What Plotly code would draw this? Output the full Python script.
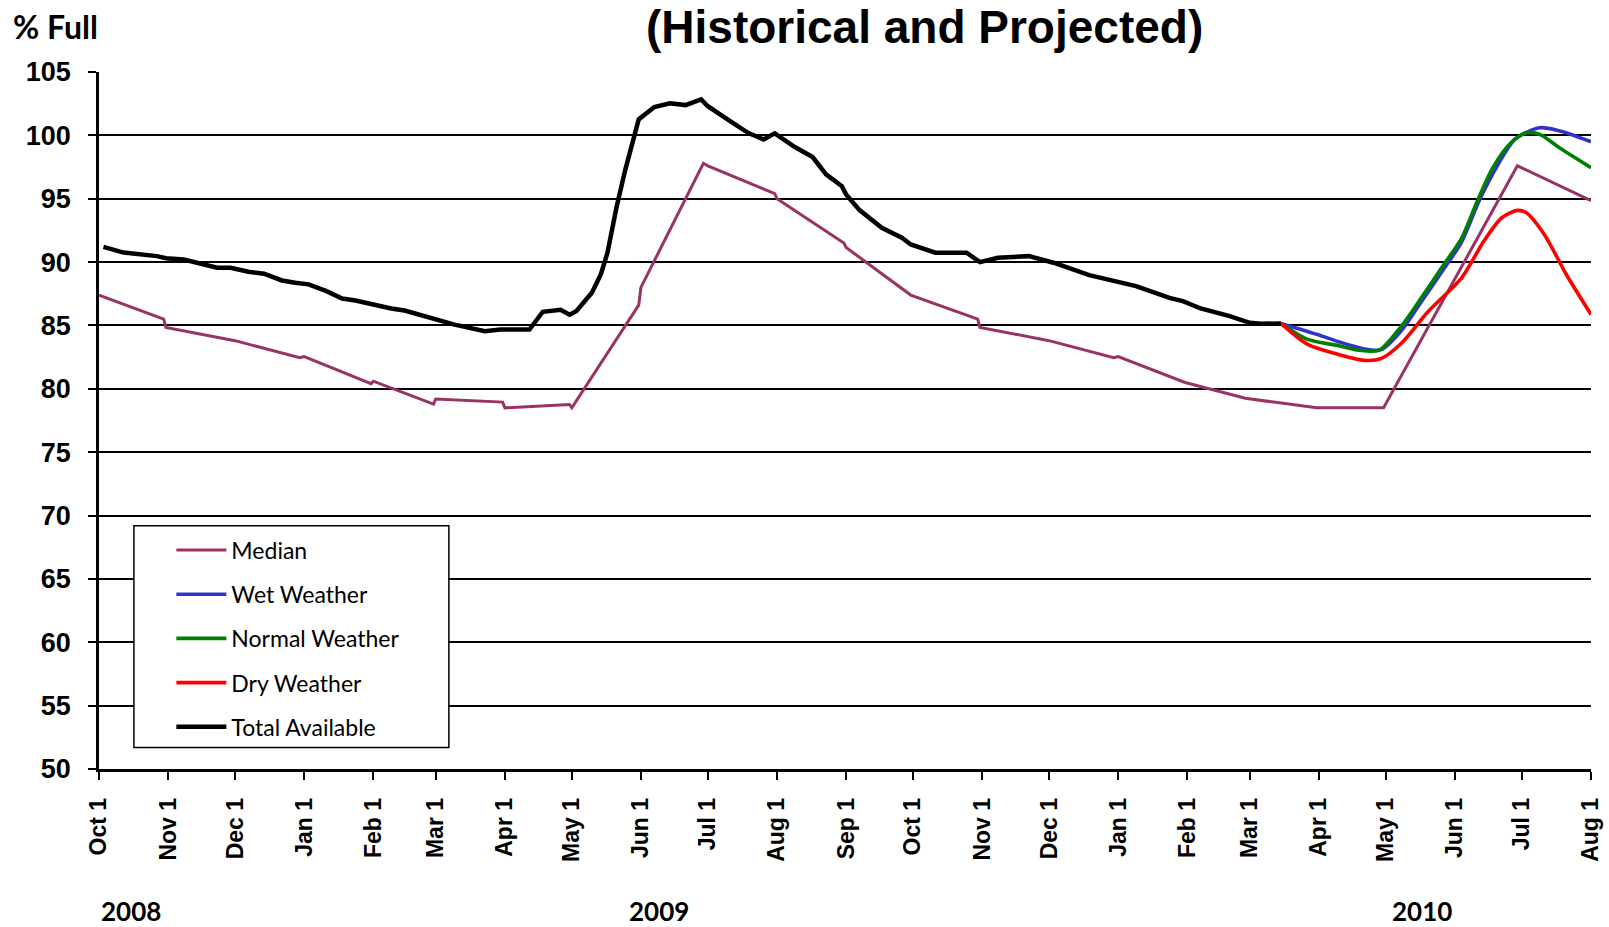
import plotly.graph_objects as go

# ---------------- data ----------------
median_dates = ["2008-10-01", "2008-10-30", "2008-10-31", "2008-12-01", "2008-12-30", "2009-01-01",
                "2009-01-31", "2009-02-01", "2009-02-28", "2009-03-01", "2009-03-31", "2009-04-01",
                "2009-04-30", "2009-05-01", "2009-05-31", "2009-06-01", "2009-06-29", "2009-07-01",
                "2009-07-31", "2009-08-01", "2009-08-31", "2009-09-01", "2009-09-30", "2009-10-30",
                "2009-10-31", "2009-12-01", "2009-12-30", "2010-01-01", "2010-01-31", "2010-02-27",
                "2010-03-31", "2010-04-30", "2010-06-29", "2010-08-01"]
median_vals = [87.4, 85.5, 84.85, 83.8, 82.45, 82.55,
               80.4, 80.6, 78.8, 79.2, 78.95, 78.5,
               78.76, 78.5, 86.6, 88.0, 97.8, 97.6,
               95.4, 95.0, 91.5, 91.15, 87.4, 85.5,
               84.85, 83.8, 82.45, 82.55, 80.5, 79.25,
               78.5, 78.5, 97.6, 94.85]

total_dates = ["2008-10-03", "2008-10-12", "2008-10-27", "2008-10-31", "2008-11-08", "2008-11-15",
               "2008-11-23", "2008-11-29", "2008-12-07", "2008-12-14", "2008-12-22", "2008-12-28",
               "2009-01-03", "2009-01-11", "2009-01-18", "2009-01-24", "2009-01-31", "2009-02-09",
               "2009-02-15", "2009-03-02", "2009-03-09", "2009-03-23", "2009-03-30", "2009-04-12",
               "2009-04-18", "2009-04-26", "2009-04-30", "2009-05-03", "2009-05-10", "2009-05-14",
               "2009-05-17", "2009-05-21", "2009-05-25", "2009-05-31", "2009-06-07", "2009-06-14",
               "2009-06-21", "2009-06-28", "2009-07-01", "2009-07-11", "2009-07-19", "2009-07-26",
               "2009-07-31", "2009-08-09", "2009-08-17", "2009-08-23", "2009-08-30", "2009-09-01",
               "2009-09-07", "2009-09-17", "2009-09-26", "2009-09-30", "2009-10-11", "2009-10-25",
               "2009-10-31", "2009-11-08", "2009-11-22", "2009-12-03", "2009-12-19", "2010-01-09",
               "2010-01-24", "2010-01-30", "2010-02-07", "2010-02-20", "2010-03-01", "2010-03-06",
               "2010-03-15"]
total_vals = [91.2, 90.75, 90.47, 90.3, 90.2, 89.87,
              89.55, 89.55, 89.24, 89.08, 88.55, 88.37,
              88.24, 87.71, 87.13, 86.97, 86.66, 86.34,
              86.18, 85.47, 85.08, 84.55, 84.68, 84.68,
              86.08, 86.24, 85.85, 86.13, 87.58, 89.03,
              90.74, 94.29, 97.3, 101.26, 102.24, 102.53,
              102.39, 102.84, 102.3, 101.13, 100.2, 99.68,
              100.16, 99.08, 98.29, 96.92, 96.0, 95.34,
              94.1, 92.7, 91.92, 91.39, 90.74, 90.74,
              90.0, 90.34, 90.47, 89.95, 88.97, 88.1,
              87.18, 86.92, 86.34, 85.74, 85.21, 85.13,
              85.16]

wet_dates = ["2010-03-15", "2010-03-31", "2010-04-11", "2010-04-23", "2010-04-29", "2010-05-08",
             "2010-05-17", "2010-05-26", "2010-06-04", "2010-06-12", "2010-06-20", "2010-06-28",
             "2010-07-09", "2010-07-18", "2010-08-01"]
wet_vals = [85.16, 84.3, 83.65, 83.1, 83.1, 84.6,
            86.9, 89.2, 91.6, 94.9, 97.6, 99.7,
            100.6, 100.35, 99.5]

normal_dates = ["2010-03-15", "2010-03-27", "2010-04-10", "2010-04-19", "2010-04-28", "2010-05-08",
                "2010-05-17", "2010-05-26", "2010-06-04", "2010-06-11", "2010-06-18", "2010-06-26",
                "2010-07-03", "2010-07-09", "2010-07-18", "2010-08-01"]
normal_vals = [85.16, 83.9, 83.4, 83.05, 83.05, 84.95,
               87.2, 89.55, 91.9, 94.8, 97.45, 99.4,
               100.2, 100.08, 99.0, 97.45]

dry_dates = ["2010-03-15", "2010-03-27", "2010-04-10", "2010-04-22", "2010-04-29", "2010-05-08",
             "2010-05-20", "2010-06-04", "2010-06-14", "2010-06-22", "2010-06-29", "2010-07-03",
             "2010-07-11", "2010-07-21", "2010-08-01"]
dry_vals = [85.16, 83.5, 82.7, 82.24, 82.4, 83.6,
            86.1, 88.76, 91.66, 93.5, 94.08, 93.9,
            92.2, 89.0, 85.87]

month_ticks = ["2008-10-01", "2008-11-01", "2008-12-01", "2009-01-01", "2009-02-01", "2009-03-01",
               "2009-04-01", "2009-05-01", "2009-06-01", "2009-07-01", "2009-08-01", "2009-09-01",
               "2009-10-01", "2009-11-01", "2009-12-01", "2010-01-01", "2010-02-01", "2010-03-01",
               "2010-04-01", "2010-05-01", "2010-06-01", "2010-07-01", "2010-08-01"]
month_labels = ["Oct 1", "Nov 1", "Dec 1", "Jan 1", "Feb 1", "Mar 1", "Apr 1", "May 1", "Jun 1",
                "Jul 1", "Aug 1", "Sep 1", "Oct 1", "Nov 1", "Dec 1", "Jan 1", "Feb 1", "Mar 1",
                "Apr 1", "May 1", "Jun 1", "Jul 1", "Aug 1"]
y_ticks = [50, 55, 60, 65, 70, 75, 80, 85, 90, 95, 100, 105]

year_labels = ["2008", "2009", "2010"]
year_label_dates = ["2008-10-01", "2009-06-09", "2010-05-17"]
year_label_anchor = ["left", "center", "center"]

# ---------------- figure ----------------
CAL = "Lato, Open Sans, sans-serif"
ARIAL = "Liberation Sans, Arial, sans-serif"

fig = go.Figure()
fig.add_trace(go.Scatter(x=median_dates, y=median_vals, mode="lines", name="Median",
                         line=dict(color="#993366", width=3), legendgroup="a"))
fig.add_trace(go.Scatter(x=wet_dates, y=wet_vals, mode="lines", name="Wet Weather",
                         line=dict(color="#3333CC", width=3.6, shape="spline", smoothing=0.8),
                         legendgroup="b"))
fig.add_trace(go.Scatter(x=normal_dates, y=normal_vals, mode="lines", name="Normal Weather",
                         line=dict(color="#008000", width=3.6, shape="spline", smoothing=0.8),
                         legendgroup="c"))
fig.add_trace(go.Scatter(x=dry_dates, y=dry_vals, mode="lines", name="Dry Weather",
                         line=dict(color="#FF0000", width=3.6, shape="spline", smoothing=0.8),
                         legendgroup="d"))
fig.add_trace(go.Scatter(x=total_dates, y=total_vals, mode="lines", name="Total Available",
                         line=dict(color="#000000", width=4.5), legendgroup="e"))

# legend box
fig.add_shape(type="rect", xref="paper", yref="paper", x0=0.0234, x1=0.2345, y0=0.031, y1=0.349,
              line=dict(color="black", width=1.5), fillcolor="white", layer="above")

fig.add_annotation(text="(Historical and Projected)", xref="paper", yref="paper",
                   x=0.553, y=1.065, xanchor="center", yanchor="middle", showarrow=False,
                   font=dict(family=ARIAL, size=46, color="black", weight="bold"))
fig.add_annotation(text="% Full", xref="paper", yref="paper", x=-0.0588, y=1.0657,
                   xanchor="left", yanchor="middle", showarrow=False,
                   font=dict(family=CAL, size=32, color="black", weight="bold"))
for lab, d, anc in zip(year_labels, year_label_dates, year_label_anchor):
    fig.add_annotation(text=lab, xref="x", yref="paper", x=d, y=-0.2044, xanchor=anc,
                       yanchor="middle", showarrow=False,
                       font=dict(family=CAL, size=26, color="black", weight="bold"))

fig.update_layout(
    width=1609, height=927,
    margin=dict(l=99, r=18, t=72, b=158, autoexpand=False),
    paper_bgcolor="white", plot_bgcolor="white",
    showlegend=True,
    legend=dict(x=0.0485, y=0.345, xanchor="left", yanchor="top", bgcolor="rgba(0,0,0,0)",
                borderwidth=0, font=dict(family=CAL, size=23, color="black"),
                tracegroupgap=11.3, traceorder="grouped", itemwidth=50),
    xaxis=dict(type="date", range=["2008-10-01", "2010-08-01"], tickvals=month_ticks,
               ticktext=month_labels, tickangle=-90, showgrid=False, zeroline=False,
               showline=True, linecolor="black", linewidth=2.5, ticks="outside",
               ticklen=8, tickwidth=2, tickcolor="black", ticklabelstandoff=9,
               automargin=False,
               tickfont=dict(family=ARIAL, size=23, color="black", weight="bold")),
    yaxis=dict(range=[50, 105], tickvals=y_ticks, showgrid=True, gridcolor="black",
               gridwidth=1.5, zeroline=False, showline=True, linecolor="black", linewidth=2.5,
               ticks="outside", ticklen=8, tickwidth=1.5, tickcolor="black",
               ticklabelstandoff=12, automargin=False,
               tickfont=dict(family=ARIAL, size=27, color="black", weight="bold")),
    yaxis2=dict(overlaying="y", side="right", range=[50, 105], tickvals=y_ticks,
                showline=True, linecolor="#888888", linewidth=3, ticks="outside",
                tickcolor="#888888", ticklen=6, tickwidth=1.5, showticklabels=False,
                showgrid=False, zeroline=False, fixedrange=True, automargin=False),
)

fig.write_html("out.html", config={"displayModeBar": False},
               post_script="document.body.style.margin='0px';")
